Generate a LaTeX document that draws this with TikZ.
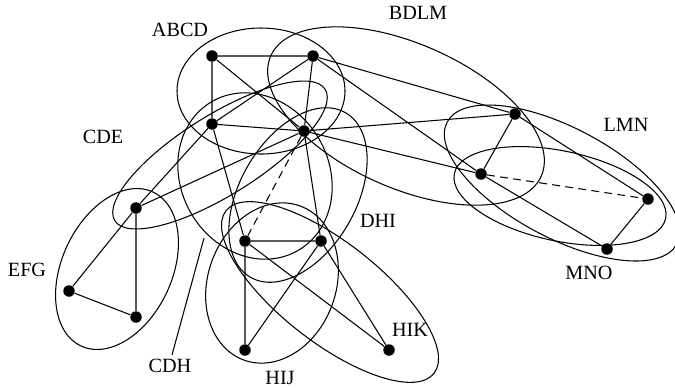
\documentclass[tikz,border=0pt]{standalone}
\usepackage{fontspec}
\setmainfont{Liberation Serif}
\usetikzlibrary{positioning}

\tikzset{
  vertex/.style={circle, fill=black, inner sep=0pt, minimum size=0.23cm},
  edge/.style={line width=0.6pt},
  hyper/.style={line width=0.6pt},
  tag/.style={font=\fontsize{11.5}{13}\selectfont, inner sep=0pt}
}

\begin{document}
\begin{tikzpicture}[x=0.02cm, y=-0.02cm]
    \useasboundingbox (0,0) rectangle (675,387);

    % hyperedges
    \draw[hyper] (261,91) ellipse [x radius=84, y radius=63];
    \draw[hyper, rotate around={-24:(406,116)}] (406,116) ellipse [x radius=148, y radius=72];
    \draw[hyper, rotate around={32:(220,155)}] (220,155) ellipse [x radius=124, y radius=40];
    \draw[hyper, rotate around={30:(255,176)}] (255,176) ellipse [x radius=74, y radius=86];
    \draw[hyper, rotate around={60:(298,195)}] (298,195) ellipse [x radius=95, y radius=58];
    \draw[hyper, rotate around={65:(117,269)}] (117,269) ellipse [x radius=85, y radius=55];
    \draw[hyper, rotate around={70:(272,283)}] (272,283) ellipse [x radius=82, y radius=64];
    \draw[hyper, rotate around={-38:(330,292)}] (330,292) ellipse [x radius=132, y radius=50];
    \draw[hyper, rotate around={-28:(562,183)}] (562,183) ellipse [x radius=130, y radius=55];
    \draw[hyper, rotate around={-12:(560,196)}] (560,196) ellipse [x radius=108, y radius=45];

    % vertices
    \node[vertex] (A) at (212,56) {};
    \node[vertex] (B) at (313,56) {};
    \node[vertex] (C) at (212,124) {};
    \node[vertex] (D) at (304,131) {};
    \node[vertex] (E) at (136,208) {};
    \node[vertex] (F) at (69,291) {};
    \node[vertex] (G) at (136,317) {};
    \node[vertex] (H) at (245,241) {};
    \node[vertex] (I) at (321,241) {};
    \node[vertex] (J) at (245,350) {};
    \node[vertex] (K) at (389,350) {};
    \node[vertex] (L) at (515,114) {};
    \node[vertex] (M) at (481,174) {};
    \node[vertex] (N) at (648,199) {};
    \node[vertex] (O) at (607,249) {};

    % edges
    \draw[edge] (A) -- (B) (A) -- (C) (A) -- (D) (B) -- (C) (B) -- (D) (C) -- (D);
    \draw[edge] (B) -- (L) (B) -- (M) (D) -- (L) (D) -- (M) (L) -- (M);
    \draw[edge] (C) -- (E) (D) -- (E) (C) -- (H) (D) -- (I);
    \draw[edge] (E) -- (F) (E) -- (G) (F) -- (G);
    \draw[edge] (H) -- (I) (H) -- (J) (I) -- (J) (H) -- (K) (I) -- (K);
    \draw[edge] (L) -- (N) (M) -- (O) (N) -- (O);
    \draw[edge, dash pattern=on 4.5pt off 3pt] (D) -- (H);
    \draw[edge, dash pattern=on 4.5pt off 3pt] (M) -- (N);

    % labels
    \node[tag] (abcd) at (180,30) {ABCD};
    \node[tag] (bdlm) at (418,13) {BDLM};
    \node[tag] (cde) at (103,137) {CDE};
    \node[tag] (efg) at (27,270) {EFG};
    \node[tag] (cdh) at (170,366) {CDH};
    \node[tag] (dhi) at (378,221) {DHI};
    \node[tag] (hij) at (280,378) {HIJ};
    \node[tag] (hik) at (410,330) {HIK};
    \node[tag] (lmn) at (626,125) {LMN};
    \node[tag] (mno) at (589,273) {MNO};
    \coordinate (cdhtip) at (204,238);
    \draw[edge] (cdh.north) ++(2,-4) -- (cdhtip);
\end{tikzpicture}
\end{document}
